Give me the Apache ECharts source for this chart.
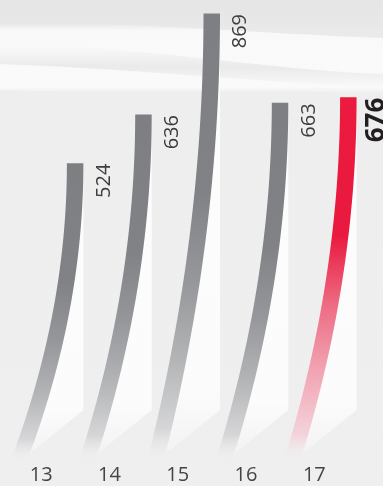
<!DOCTYPE html>
<html><head><meta charset="utf-8">
<script src="https://cdn.jsdelivr.net/npm/echarts@6/dist/echarts.min.js"></script>
<style>html,body{margin:0;padding:0;background:#eeeeef}#c{width:383px;height:486px}</style>
</head><body><div id="c"></div>
<script>
// ---- data ----
const categories = ['13', '14', '15', '16', '17'];
const values = [524, 636, 869, 663, 676];
const highlightCategory = '17';

// ---- style constants ----
const Y_MIN = -160, Y_MAX = 900;
const BAR_W = 16.5;
const TOP_OFFSET = 34;   // bar top sits right of the category label
const SWEEP = 56;        // how far the tail curves to the left
const LABEL_GAP = 20.5;

function vgrad(stops) {
  return {type: 'linear', x: 0, y: 0, x2: 0, y2: 1, colorStops: stops};
}
const grayGrad = [
  {offset: 0, color: '#7e7f83'}, {offset: 0.4, color: '#818286'},
  {offset: 0.6, color: '#96979a'}, {offset: 0.78, color: '#b4b5b7'},
  {offset: 0.93, color: '#d6d6d8'}, {offset: 1, color: 'rgba(236,236,237,0)'}
];
const redGrad = [
  {offset: 0, color: '#ec1a3e'}, {offset: 0.38, color: '#e9193f'},
  {offset: 0.57, color: '#ee6a82'}, {offset: 0.75, color: '#f1a3b2'},
  {offset: 0.93, color: '#f3d3da'}, {offset: 1, color: 'rgba(241,235,237,0)'}
];

function bez(p0, p1, p2, p3, n) {
  const out = [];
  for (let k = 0; k <= n; k++) {
    const t = k / n, u = 1 - t;
    out.push([
      u*u*u*p0[0] + 3*u*u*t*p1[0] + 3*u*t*t*p2[0] + t*t*t*p3[0],
      u*u*u*p0[1] + 3*u*u*t*p1[1] + 3*u*t*t*p2[1] + t*t*t*p3[1]
    ]);
  }
  return out;
}
function swoosh(topL, topR, botL, botR) {
  const a = bez([0, topL], [120, topL - 4], [260, topR - 4], [383, topR], 30);
  const b = bez([383, botR], [260, botR - 6], [120, botL + 4], [0, botL], 30);
  return a.concat(b);
}
function soft(alpha, edge) {
  return vgrad([
    {offset: 0, color: 'rgba(255,255,255,0)'}, {offset: edge, color: 'rgba(255,255,255,' + alpha + ')'},
    {offset: 1 - edge, color: 'rgba(255,255,255,' + alpha + ')'}, {offset: 1, color: 'rgba(255,255,255,0)'}]);
}

const chart = echarts.init(document.getElementById('c'));

function renderItem(params, api) {
  const i = api.value(0);
  const v = api.value(1);
  const top = api.coord([i, v]);
  const bot = api.coord([i, Y_MIN]);
  const yTop = top[1], yBot = bot[1];
  const x0 = top[0] + TOP_OFFSET;
  const L = yBot - yTop;
  const N = 48;
  const cx = y => { const t = (y - yTop) / L; return x0 - SWEEP * t * t; };
  const right = [], left = [];
  for (let k = 0; k <= N; k++) {
    const y = yTop + L * k / N;
    right.push([cx(y) + BAR_W / 2, y]);
    left.push([cx(y) - BAR_W / 2, y]);
  }
  const barPts = right.concat(left.reverse());
  const xR = x0 + BAR_W / 2;
  const yV = yBot - 50;
  const bandPts = [[xR, yTop], [xR, yV]];
  const yEnd = yBot - 6;
  for (let k = N; k >= 0; k--) {
    const y = yTop + (yEnd - yTop) * k / N;
    bandPts.push([cx(y) + BAR_W / 2 - 0.5, y]);
  }
  const isHi = categories[i] === highlightCategory;
  return {
    type: 'group',
    children: [
      {
        type: 'polygon', shape: {points: bandPts},
        style: {fill: vgrad([
          {offset: 0, color: 'rgba(255,255,255,0.85)'},
          {offset: 0.85, color: 'rgba(255,255,255,0.8)'},
          {offset: 1, color: 'rgba(255,255,255,0.25)'}])}
      },
      {
        type: 'polygon', shape: {points: barPts},
        style: {fill: vgrad(isHi ? redGrad : grayGrad)}
      },
      {
        type: 'text', x: xR + (isHi ? 19.5 : LABEL_GAP), y: yTop + 0.5, rotation: Math.PI / 2,
        style: {
          text: String(v), fill: isHi ? '#231f20' : '#3d3d3f',
          font: isHi ? 'bold 26px "Open Sans"' : '20px "Open Sans"',
          align: 'right', verticalAlign: 'middle'
        }
      }
    ]
  };
}

const option = {
  animation: false,
  graphic: [
    {type: 'rect', z: -10, shape: {x: 0, y: 0, width: 383, height: 486},
     style: {fill: vgrad([
       {offset: 0, color: '#e5e5e6'}, {offset: 0.05, color: '#e8e8e9'},
       {offset: 0.1, color: '#ededee'}, {offset: 0.2, color: '#eeeeef'},
       {offset: 1, color: '#efeff0'}])}},
    {type: 'polygon', z: -9, shape: {points: swoosh(24, 38, 90, 94)}, style: {fill: soft(0.7, 0.1)}},
    {type: 'polygon', z: -8, shape: {points: swoosh(46, 74, 64, 88)},
     style: {fill: vgrad([
       {offset: 0, color: 'rgba(215,215,218,0)'}, {offset: 0.5, color: 'rgba(215,215,218,0.45)'},
       {offset: 1, color: 'rgba(215,215,218,0)'}])}}
  ],
  grid: {left: 7, right: 34.5, top: 0, bottom: 26},
  xAxis: {
    type: 'category', data: categories,
    axisLine: {show: false}, axisTick: {show: false}, splitLine: {show: false},
    axisLabel: {color: '#454547', fontSize: 20, fontFamily: 'Open Sans', margin: 5}
  },
  yAxis: {type: 'value', min: Y_MIN, max: Y_MAX, show: false, splitLine: {show: false}},
  series: [{
    type: 'custom', renderItem, clip: false,
    encode: {x: 0, y: 1},
    data: categories.map((c, i) => [i, values[i]])
  }]
};
chart.setOption(option);
</script></body></html>
